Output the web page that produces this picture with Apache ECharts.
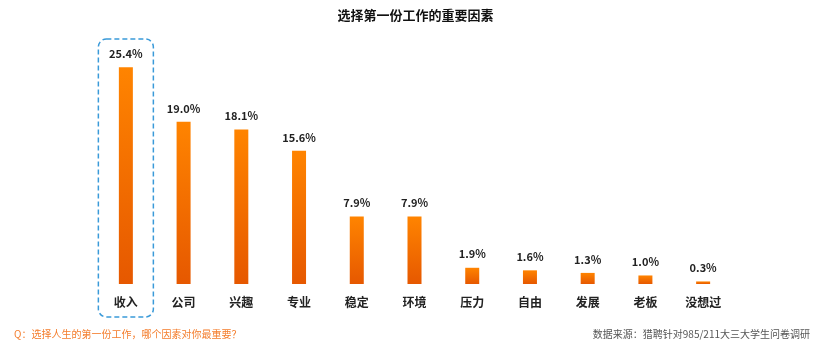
<!DOCTYPE html>
<html><head><meta charset="utf-8">
<script src="https://cdn.jsdelivr.net/npm/echarts@6/dist/echarts.min.js"></script>
<style>html,body{margin:0;padding:0;background:#fff}#c{width:831px;height:347px}</style>
</head><body><div id="c"></div>
<script>
const categories = ['收入','公司','兴趣','专业','稳定','环境','压力','自由','发展','老板','没想过'];
const values = [25.4, 19.0, 18.1, 15.6, 7.9, 7.9, 1.9, 1.6, 1.3, 1.0, 0.3];
const titleText = '选择第一份工作的重要因素';
const questionText = 'Q：选择人生的第一份工作，哪个因素对你最重要？';
const sourceText = '数据来源：猎聘针对985/211大三大学生问卷调研';
const highlightCategory = '收入';

const font = '"Noto Sans CJK SC", "Noto Sans", sans-serif';
const chart = echarts.init(document.getElementById('c'));
const footer = [
  {type: 'text', left: 14, top: 329, style: {text: questionText, font: '10px ' + font, fill: '#f47d2c'}},
  {type: 'text', right: 21, top: 329, style: {text: sourceText, font: '10px ' + font, fill: '#555'}}
];
const option = {
  animation: false,
  title: {
    text: titleText, left: 'center', top: 4,
    textStyle: {fontFamily: font, fontSize: 13, fontWeight: 'bold', color: '#111'}
  },
  grid: {left: 97, right: 99, top: 45, bottom: 63},
  xAxis: {
    type: 'category', data: categories,
    axisLine: {show: false}, axisTick: {show: false},
    axisLabel: {fontFamily: font, fontSize: 12, fontWeight: 'bold', color: '#222', margin: 12}
  },
  yAxis: {type: 'value', min: 0, max: 28, show: false, splitLine: {show: false}},
  series: [{
    type: 'bar', data: values, barWidth: 14,
    itemStyle: {
      color: new echarts.graphic.LinearGradient(0, 0, 0, 1, [
        {offset: 0, color: '#ff8400'}, {offset: 1, color: '#e65800'}
      ])
    },
    label: {
      show: true, position: 'top', distance: 8,
      formatter: p => p.value.toFixed(1) + '%',
      fontFamily: font, fontSize: 11, fontWeight: 'bold', color: '#222'
    }
  }],
  graphic: footer
};
chart.setOption(option);
const idx = categories.indexOf(highlightCategory);
const p = chart.convertToPixel({xAxisIndex: 0, yAxisIndex: 0}, [idx, values[idx]]);
const cx = p[0];
chart.setOption({graphic: footer.concat([
  {type: 'rect', shape: {x: cx - 27.5, y: 39, width: 55, height: 278, r: 8},
   style: {fill: 'none', stroke: '#3a9ad9', lineWidth: 1.5, lineDash: [5, 3]}}
])});
</script></body></html>
